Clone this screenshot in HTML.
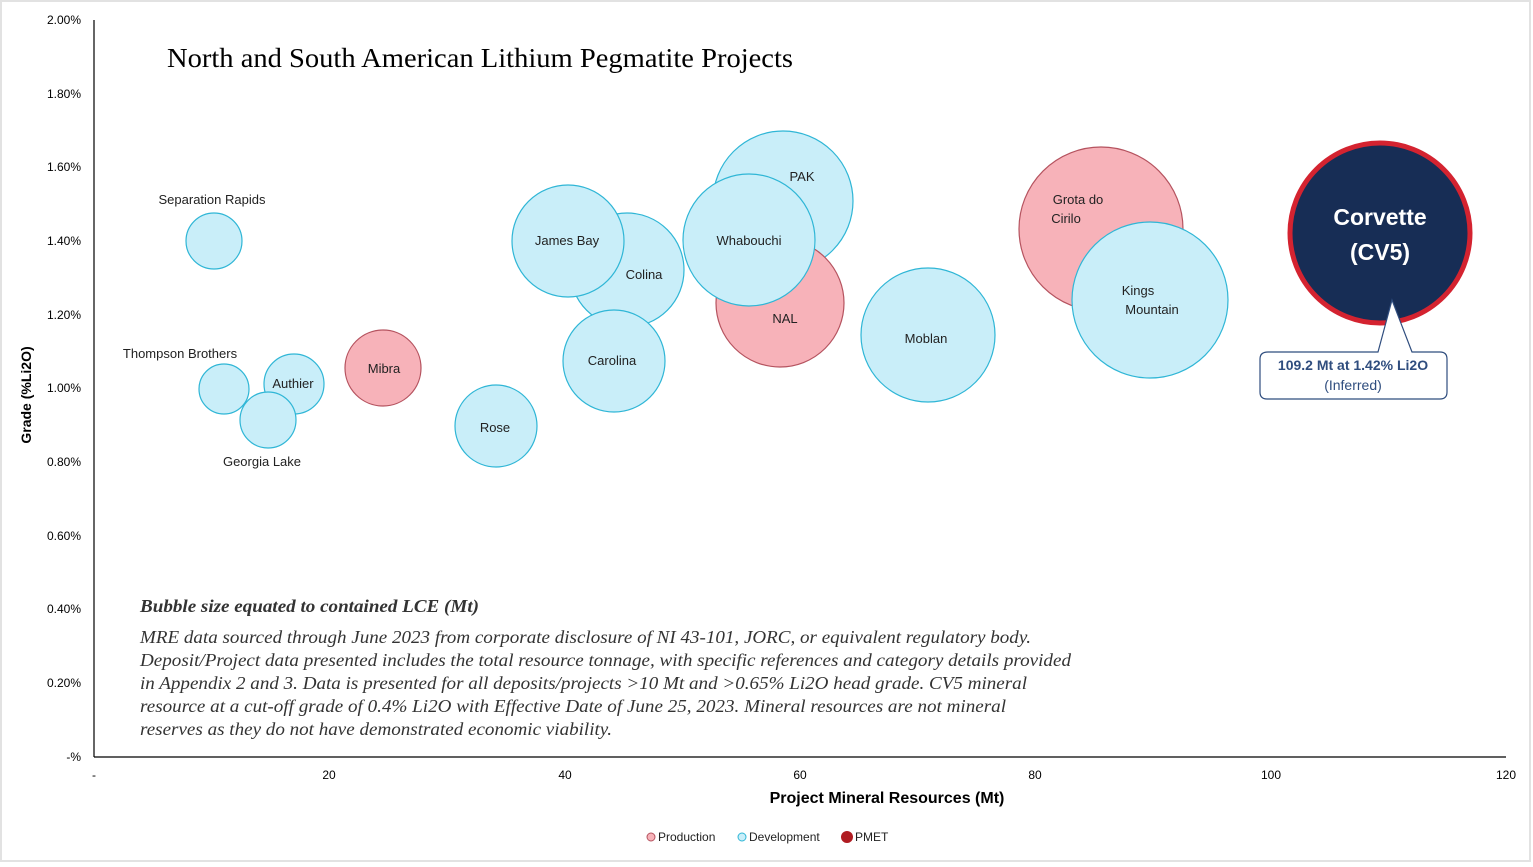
<!DOCTYPE html>
<html><head><meta charset="utf-8"><style>
html,body{margin:0;padding:0;background:#fff;}
svg{display:block;}
</style></head><body>
<svg width="1533" height="867" viewBox="0 0 1533 867" xmlns="http://www.w3.org/2000/svg" font-family="'Liberation Sans', sans-serif">
<rect x="1" y="1" width="1529" height="860" fill="#fff" stroke="#e2e2e2" stroke-width="2"/>
<line x1="94" y1="20" x2="94" y2="757" stroke="#000" stroke-width="1.2"/>
<line x1="94" y1="757" x2="1506" y2="757" stroke="#000" stroke-width="1.2"/>
<g font-size="12" fill="#000" text-anchor="end">
<text x="81" y="24">2.00%</text><text x="81" y="98">1.80%</text><text x="81" y="171">1.60%</text>
<text x="81" y="245">1.40%</text><text x="81" y="319">1.20%</text><text x="81" y="392">1.00%</text>
<text x="81" y="466">0.80%</text><text x="81" y="540">0.60%</text><text x="81" y="613">0.40%</text>
<text x="81" y="687">0.20%</text><text x="81" y="761">-%</text>
</g>
<g font-size="12" fill="#000" text-anchor="middle">
<text x="94" y="779">-</text><text x="329" y="779">20</text><text x="565" y="779">40</text><text x="800" y="779">60</text>
<text x="1035" y="779">80</text><text x="1271" y="779">100</text><text x="1506" y="779">120</text>
</g>
<text x="887" y="803" font-size="16" font-weight="bold" text-anchor="middle">Project Mineral Resources (Mt)</text>
<text transform="translate(31,395) rotate(-90)" font-size="14" font-weight="bold" text-anchor="middle">Grade (%Li2O)</text>
<text x="167" y="67" font-family="'Liberation Serif', serif" font-size="27" textLength="626" lengthAdjust="spacingAndGlyphs">North and South American Lithium Pegmatite Projects</text>
<g stroke-width="1.2">
<circle cx="214" cy="241" r="28" fill="#c9eef9" stroke="#2fb6d6"/>
<circle cx="224" cy="389" r="25" fill="#c9eef9" stroke="#2fb6d6"/>
<circle cx="294" cy="384" r="30" fill="#c9eef9" stroke="#2fb6d6"/>
<circle cx="268" cy="420" r="28" fill="#c9eef9" stroke="#2fb6d6"/>
<circle cx="383" cy="368" r="38" fill="#f7b2b9" stroke="#b5535f"/>
<circle cx="496" cy="426" r="41" fill="#c9eef9" stroke="#2fb6d6"/>
<circle cx="627" cy="270" r="57" fill="#c9eef9" stroke="#2fb6d6"/>
<circle cx="568" cy="241" r="56" fill="#c9eef9" stroke="#2fb6d6"/>
<circle cx="614" cy="361" r="51" fill="#c9eef9" stroke="#2fb6d6"/>
<circle cx="783" cy="201" r="70" fill="#c9eef9" stroke="#2fb6d6"/>
<circle cx="780" cy="303" r="64" fill="#f7b2b9" stroke="#b5535f"/>
<circle cx="749" cy="240" r="66" fill="#c9eef9" stroke="#2fb6d6"/>
<circle cx="928" cy="335" r="67" fill="#c9eef9" stroke="#2fb6d6"/>
<circle cx="1101" cy="229" r="82" fill="#f7b2b9" stroke="#b5535f"/>
<circle cx="1150" cy="300" r="78" fill="#c9eef9" stroke="#2fb6d6"/>
</g>
<circle cx="1380" cy="233" r="90" fill="#172d55" stroke="#d42330" stroke-width="5"/>
<path d="M1268 352 H1378 L1392 300 L1412 352 H1440 Q1447 352 1447 359 V392 Q1447 399 1440 399 H1267 Q1260 399 1260 392 V359 Q1260 352 1268 352 Z" fill="#fff" stroke="#2f4d7e" stroke-width="1.2"/>
<text x="1380" y="225" font-size="23" font-weight="bold" fill="#fff" text-anchor="middle">Corvette</text>
<text x="1380" y="260" font-size="23" font-weight="bold" fill="#fff" text-anchor="middle">(CV5)</text>
<text x="1353" y="370" font-size="14" font-weight="bold" fill="#2f4d7e" text-anchor="middle">109.2 Mt at 1.42% Li2O</text>
<text x="1353" y="390" font-size="14" fill="#2f4d7e" text-anchor="middle">(Inferred)</text>
<g font-size="13" fill="#222" text-anchor="middle">
<text x="212" y="204">Separation Rapids</text>
<text x="180" y="358">Thompson Brothers</text>
<text x="293" y="388">Authier</text>
<text x="262" y="466">Georgia Lake</text>
<text x="384" y="373">Mibra</text>
<text x="495" y="432">Rose</text>
<text x="644" y="279">Colina</text>
<text x="567" y="245">James Bay</text>
<text x="612" y="365">Carolina</text>
<text x="802" y="181">PAK</text>
<text x="785" y="323">NAL</text>
<text x="749" y="245">Whabouchi</text>
<text x="926" y="343">Moblan</text>
<text x="1078" y="204">Grota do</text>
<text x="1066" y="223">Cirilo</text>
<text x="1138" y="295">Kings</text>
<text x="1152" y="314">Mountain</text>
</g>
<g font-family="'Liberation Serif', serif" font-style="italic" fill="#333" font-size="18">
<text x="140" y="612" font-weight="bold" textLength="339" lengthAdjust="spacingAndGlyphs">Bubble size equated to contained LCE (Mt)</text>
<text x="140" y="643" textLength="891" lengthAdjust="spacingAndGlyphs">MRE data sourced through June 2023 from corporate disclosure of NI 43-101, JORC, or equivalent regulatory body.</text>
<text x="140" y="666" textLength="931" lengthAdjust="spacingAndGlyphs">Deposit/Project data presented includes the total resource tonnage, with specific references and category details provided</text>
<text x="140" y="689" textLength="887" lengthAdjust="spacingAndGlyphs">in Appendix 2 and 3. Data is presented for all deposits/projects &gt;10 Mt and &gt;0.65% Li2O head grade. CV5 mineral</text>
<text x="140" y="712" textLength="866" lengthAdjust="spacingAndGlyphs">resource at a cut-off grade of 0.4% Li2O with Effective Date of June 25, 2023. Mineral resources are not mineral</text>
<text x="140" y="735" textLength="472" lengthAdjust="spacingAndGlyphs">reserves as they do not have demonstrated economic viability.</text>
</g>
<g font-size="12" fill="#222">
<circle cx="651" cy="837" r="4" fill="#f7b2b9" stroke="#b5535f"/><text x="658" y="841">Production</text>
<circle cx="742" cy="837" r="4" fill="#c9eef9" stroke="#2fb6d6"/><text x="749" y="841">Development</text>
<circle cx="847" cy="837" r="6" fill="#b01c22"/><text x="855" y="841">PMET</text>
</g>
</svg>
</body></html>
